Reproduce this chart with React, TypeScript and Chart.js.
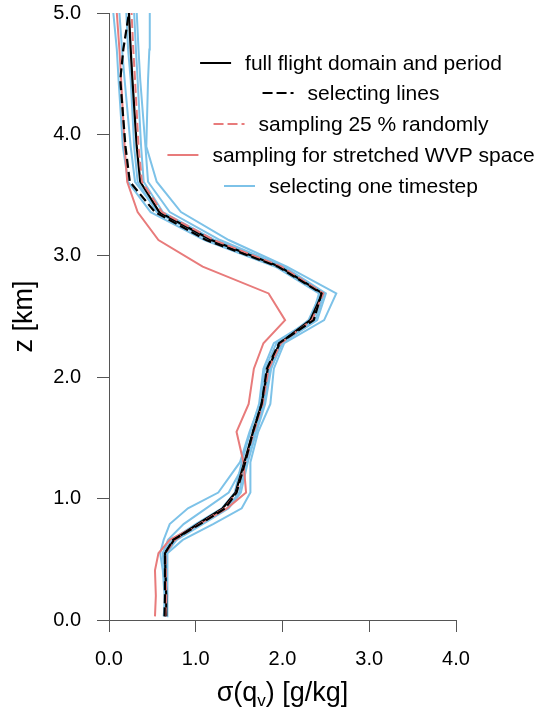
import React, { useEffect, useRef } from "react";
import { Chart, registerables } from "chart.js";

Chart.register(...registerables);

// Heights (km) of profile vertices
const HEIGHTS_KM = [0.03, 0.2, 0.41, 0.55, 0.66, 0.79, 0.92, 1.05, 1.3, 1.55, 1.78, 2.07, 2.28, 2.47, 2.69, 2.91, 3.13, 3.36, 3.61, 3.9, 4.45, 4.7, 5.0];

// sigma(q_v) [g/kg] per height
const FULL_FLIGHT = [0.66, 0.66, 0.65, 0.645, 0.75, 1.02, 1.31, 1.46, 1.56, 1.66, 1.76, 1.83, 1.97, 2.32, 2.46, 1.97, 1.18, 0.58, 0.36, 0.32, 0.27, 0.25, 0.23];
const SELECTING_LINES = [0.64, 0.645, 0.645, 0.645, 0.74, 1.05, 1.34, 1.47, 1.57, 1.66, 1.76, 1.82, 1.96, 2.36, 2.45, 1.95, 1.12, 0.53, 0.24, 0.19, 0.13, 0.165, 0.23];
const RANDOM_25 = [0.65, 0.66, 0.655, 0.65, 0.76, 1.04, 1.33, 1.47, 1.57, 1.67, 1.77, 1.84, 1.98, 2.34, 2.47, 1.99, 1.21, 0.61, 0.38, 0.34, 0.30, 0.28, 0.26];
const STRETCHED_WVP = [0.53, 0.54, 0.53, 0.57, 0.70, 1.04, 1.36, 1.58, 1.55, 1.47, 1.61, 1.67, 1.78, 2.03, 1.84, 1.08, 0.57, 0.33, 0.21, 0.18, 0.14, 0.12, 0.09];
const TIMESTEP_1 = [0.67, 0.68, 0.67, 0.67, 0.85, 1.20, 1.53, 1.63, 1.63, 1.72, 1.86, 1.90, 2.02, 2.48, 2.62, 2.05, 1.38, 0.83, 0.55, 0.43, 0.45, 0.465, 0.47];
const TIMESTEP_2 = [0.65, 0.67, 0.66, 0.66, 0.78, 1.08, 1.38, 1.52, 1.60, 1.70, 1.80, 1.87, 1.99, 2.40, 2.50, 2.02, 1.28, 0.70, 0.45, 0.42, 0.36, 0.34, 0.32];
const TIMESTEP_3 = [0.63, 0.65, 0.64, 0.62, 0.72, 1.00, 1.30, 1.45, 1.53, 1.63, 1.73, 1.78, 1.90, 2.33, 2.42, 1.92, 1.10, 0.48, 0.22, 0.16, 0.11, 0.09, 0.05];
const TIMESTEP_4 = [0.64, 0.64, 0.62, 0.59, 0.63, 0.70, 0.91, 1.26, 1.51, 1.62, 1.74, 1.80, 1.93, 2.35, 2.47, 1.98, 1.20, 0.57, 0.30, 0.25, 0.18, 0.15, 0.12];
const TIMESTEP_5 = [0.65, 0.66, 0.64, 0.62, 0.68, 0.86, 1.12, 1.38, 1.57, 1.68, 1.78, 1.85, 1.96, 2.30, 2.44, 1.96, 1.15, 0.55, 0.33, 0.29, 0.25, 0.22, 0.20];
const TIMESTEP_6 = [0.66, 0.67, 0.66, 0.65, 0.77, 1.06, 1.36, 1.50, 1.58, 1.68, 1.79, 1.86, 2.00, 2.38, 2.48, 2.00, 1.22, 0.62, 0.40, 0.37, 0.33, 0.31, 0.29];

const X_TICKS = [0, 1, 2, 3, 4];
const Y_TICKS = [0, 1, 2, 3, 4, 5];

const LEGEND_LABELS = [
  "full flight domain and period",
  "selecting lines",
  "sampling 25 % randomly",
  "sampling for stretched WVP space",
  "selecting one timestep",
];

const BLACK = "#000000";
const RED = "#E87B7B";
const BLUE = "#7DC2E8";
const AXIS = "#555555";
const FONT = "'Liberation Sans', Arial, Helvetica, sans-serif";
const DASH = [9, 4];

const LEGEND_STYLES = [
  { color: BLACK, dash: [] as number[] },
  { color: BLACK, dash: [10, 4] },
  { color: RED, dash: [10, 4] },
  { color: RED, dash: [] as number[] },
  { color: BLUE, dash: [] as number[] },
];

function toPoints(xs: number[]) {
  return xs.map((x, i) => ({ x, y: HEIGHTS_KM[i] }));
}

const overlayPlugin = {
  id: "overlay",
  afterDraw(chart: any) {
    const ctx = chart.ctx as CanvasRenderingContext2D;
    ctx.save();
    // Legend
    const rowY = [63, 93, 124, 155, 186];
    const centerX = 351;
    const lineLen = 31;
    const gap = 14;
    ctx.font = `21px ${FONT}`;
    ctx.textBaseline = "middle";
    ctx.textAlign = "left";
    LEGEND_LABELS.forEach((label, i) => {
      const w = ctx.measureText(label).width;
      const total = lineLen + gap + w;
      const x0 = centerX - total / 2;
      const y = rowY[i];
      const st = LEGEND_STYLES[i];
      ctx.beginPath();
      ctx.setLineDash(st.dash);
      ctx.strokeStyle = st.color;
      ctx.lineWidth = 2;
      ctx.moveTo(x0, y);
      ctx.lineTo(x0 + lineLen, y);
      ctx.stroke();
      ctx.setLineDash([]);
      ctx.fillStyle = "#000";
      ctx.fillText(label, x0 + lineLen + gap, y + 1);
    });

    // X title with subscript
    const a = chart.chartArea;
    const cx = (a.left + a.right) / 2;
    const base = 701;
    const big = `27px ${FONT}`;
    const small = `17px ${FONT}`;
    const p1 = "σ(q";
    const p2 = "v";
    const p3 = ") [g/kg]";
    ctx.font = big;
    const w1 = ctx.measureText(p1).width;
    const w3 = ctx.measureText(p3).width;
    ctx.font = small;
    const w2 = ctx.measureText(p2).width;
    let x = cx - (w1 + w2 + w3) / 2;
    ctx.textBaseline = "alphabetic";
    ctx.fillStyle = "#000";
    ctx.font = big;
    ctx.fillText(p1, x, base);
    x += w1;
    ctx.font = small;
    ctx.fillText(p2, x, base + 5);
    x += w2;
    ctx.font = big;
    ctx.fillText(p3, x, base);

    // Y title rotated
    ctx.translate(32, (a.top + a.bottom) / 2);
    ctx.rotate(-Math.PI / 2);
    ctx.font = big;
    ctx.textAlign = "center";
    ctx.textBaseline = "alphabetic";
    ctx.fillText("z [km]", 0, 0);
    ctx.restore();
  },
};

export default function App() {
  const ref = useRef<HTMLCanvasElement | null>(null);

  useEffect(() => {
    if (!ref.current) return;
    const line = (data: number[], color: string, dash: number[], width = 2) => ({
      data: toPoints(data),
      borderColor: color,
      backgroundColor: color,
      borderWidth: width,
      borderDash: dash,
      pointRadius: 0,
      showLine: true,
      tension: 0,
      fill: false,
    });
    const chart = new Chart(ref.current, {
      type: "scatter",
      data: {
        datasets: [
          line(SELECTING_LINES, BLACK, DASH, 2.2),
          line(RANDOM_25, RED, DASH, 2),
          line(FULL_FLIGHT, BLACK, [], 2.2),
          line(STRETCHED_WVP, RED, [], 2),
          line(TIMESTEP_6, BLUE, [], 2),
          line(TIMESTEP_5, BLUE, [], 2),
          line(TIMESTEP_4, BLUE, [], 2),
          line(TIMESTEP_3, BLUE, [], 2),
          line(TIMESTEP_2, BLUE, [], 2),
          line(TIMESTEP_1, BLUE, [], 2),
        ],
      },
      plugins: [overlayPlugin],
      options: {
        animation: false,
        responsive: false,
        devicePixelRatio: 1,
        layout: { padding: { top: 13, right: 83, left: 0, bottom: 0 } },
        plugins: { legend: { display: false }, tooltip: { enabled: false } },
        scales: {
          x: {
            type: "linear",
            position: "bottom",
            min: 0,
            max: 4,
            afterBuildTicks: (s: any) => {
              s.ticks = X_TICKS.map((v) => ({ value: v }));
            },
            afterFit: (s: any) => {
              s.height = 91;
              s.paddingLeft = 0;
              s.paddingRight = 0;
              s.paddingTop = 0;
              s.paddingBottom = 0;
            },
            ticks: {
              callback: (v: any) => Number(v).toFixed(1),
              font: { size: 20, family: FONT },
              color: "#000",
              padding: 15,
              maxRotation: 0,
            },
            grid: { display: true, drawOnChartArea: false, drawTicks: true, tickLength: 12, color: AXIS, lineWidth: 1 },
            border: { display: true, color: AXIS, width: 1 },
          },
          y: {
            type: "linear",
            position: "left",
            min: 0,
            max: 5,
            afterBuildTicks: (s: any) => {
              s.ticks = Y_TICKS.map((v) => ({ value: v }));
            },
            afterFit: (s: any) => {
              s.width = 109;
              s.paddingLeft = 0;
              s.paddingRight = 0;
              s.paddingTop = 0;
              s.paddingBottom = 0;
            },
            ticks: {
              callback: (v: any) => Number(v).toFixed(1),
              font: { size: 20, family: FONT },
              color: "#000",
              padding: 16,
            },
            grid: { display: true, drawOnChartArea: false, drawTicks: true, tickLength: 12, color: AXIS, lineWidth: 1 },
            border: { display: true, color: AXIS, width: 1 },
          },
        },
      },
    } as any);
    return () => chart.destroy();
  }, []);

  return (
    <div style={{ position: "fixed", left: 0, top: 0, width: 539, height: 711, background: "#fff" }}>
      <canvas ref={ref} width={539} height={711} style={{ width: 539, height: 711, display: "block" }} />
    </div>
  );
}
